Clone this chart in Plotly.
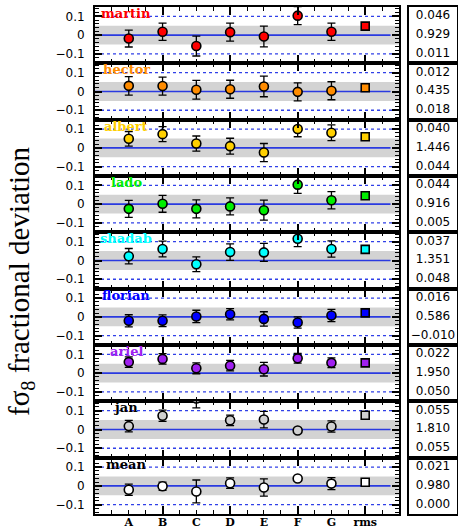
import plotly.graph_objects as go

categories = ["A", "B", "C", "D", "E", "F", "G"]
rms_label = "rms"
names = ["martin", "hector", "albert", "lado", "shadab", "florian", "ariel", "jan", "mean"]
fill_colors = ["#ff0000", "#ff8c00", "#ffd000", "#00ee00", "#00ffff", "#0000ff", "#a020f0", "#d0d0d0", "#ffffff"]
label_colors = ["#ff0000", "#ff8c00", "#ffd000", "#00ee00", "#00ffff", "#0000ff", "#a020f0", "#000000", "#000000"]

martin = [-0.018, 0.018, -0.058, 0.016, -0.007, 0.104, 0.018]
martin_err = [0.045, 0.046, 0.053, 0.048, 0.055, 0.048, 0.046]
hector = [0.030, 0.029, 0.009, 0.012, 0.027, -0.002, 0.004]
hector_err = [0.049, 0.048, 0.050, 0.048, 0.055, 0.048, 0.048]
albert = [0.048, 0.073, 0.023, 0.009, -0.025, 0.100, 0.080]
albert_err = [0.039, 0.040, 0.040, 0.042, 0.048, 0.041, 0.042]
lado = [-0.025, 0.002, -0.025, -0.012, -0.032, 0.104, 0.021]
lado_err = [0.045, 0.045, 0.048, 0.045, 0.053, 0.046, 0.046]
shadab = [0.023, 0.061, -0.020, 0.045, 0.043, 0.116, 0.061]
shadab_err = [0.041, 0.042, 0.039, 0.044, 0.048, 0.042, 0.043]
florian = [-0.021, -0.021, 0.002, 0.014, -0.011, -0.030, 0.007]
florian_err = [0.032, 0.031, 0.033, 0.030, 0.038, 0.030, 0.033]
ariel = [0.059, 0.076, 0.026, 0.040, 0.021, 0.079, 0.055]
ariel_err = [0.028, 0.028, 0.029, 0.028, 0.036, 0.026, 0.026]
jan = [0.018, 0.073, 0.165, 0.049, 0.053, -0.005, 0.016]
jan_err = [0.031, 0.030, 0.050, 0.028, 0.044, 0.012, 0.030]
mean = [-0.021, -0.002, -0.030, 0.014, -0.009, 0.039, 0.012]
mean_err = [0.030, 0.022, 0.061, 0.028, 0.046, 0.010, 0.032]

rms_values = [0.048, 0.020, 0.059, 0.045, 0.059, 0.021, 0.055, 0.076, 0.019]

stat1 = [0.046, 0.012, 0.040, 0.044, 0.037, 0.016, 0.022, 0.055, 0.021]
stat2 = [0.929, 0.435, 1.446, 0.916, 1.351, 0.586, 1.950, 1.810, 0.980]
stat3 = [0.011, 0.018, 0.044, 0.005, 0.048, -0.010, 0.050, 0.055, 0.000]

series = [martin, hector, albert, lado, shadab, florian, ariel, jan, mean]
errors = [martin_err, hector_err, albert_err, lado_err, shadab_err, florian_err, ariel_err, jan_err, mean_err]

W, H = 458, 529
ML, MR, MT, MB = 95, 1, 7, 15
pw = W - ML - MR
main_dom = [0, 304 / pw]
box_dom = [314 / pw, 1]
n = len(names)
xpos = list(range(1, len(categories) + 1))
rms_x = len(categories) + 1
yr = [-0.15, 0.15]

def fmt(v):
    s = f"{v:.3f}"
    return s.replace("-", "\u2212")

fig = go.Figure()
layout = {}
shapes = []
annotations = []

for i in range(n):
    k_main = 2 * i + 1
    k_box = 2 * i + 2
    xs_m = "x" if k_main == 1 else f"x{k_main}"
    ys_m = "y" if k_main == 1 else f"y{k_main}"
    xs_b = f"x{k_box}"
    ys_b = f"y{k_box}"
    dom = [1 - (i + 1) / n, 1 - i / n]

    layout["xaxis" if k_main == 1 else f"xaxis{k_main}"] = dict(
        domain=main_dom, anchor=ys_m, range=[0, 9],
        showline=True, linecolor="black", linewidth=2, mirror="ticks",
        tickvals=[0, 2, 4, 6, 8], ticks="inside", ticklen=8, tickwidth=1.5, tickcolor="black",
        showticklabels=False, showgrid=False, zeroline=False,
        minor=dict(dtick=0.5, tick0=0, ticks="inside", ticklen=4, tickwidth=1.2, tickcolor="black", showgrid=False),
    )
    layout["yaxis" if k_main == 1 else f"yaxis{k_main}"] = dict(
        domain=dom, anchor=xs_m, range=yr,
        showline=True, linecolor="black", linewidth=2, mirror="ticks",
        tickvals=[-0.1, 0, 0.1], ticktext=["\u22120.1", "0", "0.1"],
        ticks="inside", ticklen=7, tickwidth=1.5, tickcolor="black",
        ticklabelstandoff=6,
        tickfont=dict(family="DejaVu Sans", size=12, color="black"),
        showgrid=False, zeroline=False,
        minor=dict(dtick=0.02, tick0=0, ticks="inside", ticklen=4, tickwidth=1, tickcolor="black", showgrid=False),
    )
    layout[f"xaxis{k_box}"] = dict(
        domain=box_dom, anchor=ys_b, range=[0, 1],
        showline=True, linecolor="black", linewidth=1.5, mirror=True,
        showticklabels=False, ticks="", showgrid=False, zeroline=False,
    )
    layout[f"yaxis{k_box}"] = dict(
        domain=dom, anchor=xs_b, range=yr,
        showline=True, linecolor="black", linewidth=1.5, mirror=True,
        showticklabels=False, ticks="", showgrid=False, zeroline=False,
    )

    shapes.append(dict(type="rect", xref=f"{xs_m} domain", yref=ys_m, x0=0, x1=1,
                       y0=-0.05, y1=0.05, fillcolor="#d3d3d3", line=dict(width=0), layer="below"))
    shapes.append(dict(type="line", xref=xs_m, yref=ys_m, x0=0, x1=8.75, y0=0, y1=0,
                       line=dict(color="#2a3ae0", width=1.6), layer="below"))
    for yv in (0.1, -0.1):
        shapes.append(dict(type="line", xref=xs_m, yref=ys_m, x0=0, x1=8.85, y0=yv, y1=yv,
                           line=dict(color="#3040e8", width=1.3, dash="dot"), layer="below"))

    fig.add_trace(go.Scatter(
        x=xpos, y=series[i], mode="markers", xaxis=xs_m, yaxis=ys_m,
        marker=dict(symbol="circle", size=9, color=fill_colors[i], line=dict(color="black", width=1.6)),
        error_y=dict(type="data", array=errors[i], color="black", thickness=1.3, width=4),
        cliponaxis=True, showlegend=False, hoverinfo="skip",
    ))
    fig.add_trace(go.Scatter(
        x=[rms_x], y=[rms_values[i]], mode="markers", xaxis=xs_m, yaxis=ys_m,
        marker=dict(symbol="square", size=8, color=fill_colors[i], line=dict(color="black", width=1.6)),
        showlegend=False, hoverinfo="skip",
    ))
    fig.add_trace(go.Scatter(
        x=[0.5, 0.5, 0.5], y=[0.1, 0, -0.1], mode="text", xaxis=xs_b, yaxis=ys_b,
        text=[fmt(stat1[i]), fmt(stat2[i]), fmt(stat3[i])],
        textfont=dict(family="DejaVu Sans", size=12, color="black"),
        textposition="middle center", showlegend=False, hoverinfo="skip",
    ))
    annotations.append(dict(
        x=0.93, y=0.115, xref=xs_m, yref=ys_m, text=names[i], showarrow=False,
        xanchor="center", yanchor="middle",
        font=dict(family="DejaVu Serif", size=13, color=label_colors[i], weight="bold"),
    ))

k_last = 2 * (n - 1) + 1
k_lab = 2 * n + 1
layout[f"xaxis{k_lab}"] = dict(
    overlaying=f"x{k_last}", anchor=f"y{k_last}", side="bottom", range=[0, 9],
    tickvals=xpos + [rms_x], ticktext=categories + [rms_label], ticks="",
    showline=False, showgrid=False, zeroline=False, ticklabelstandoff=0,
    tickfont=dict(family="DejaVu Serif", size=11, color="black", weight="bold"),
)
fig.add_trace(go.Scatter(
    x=xpos + [rms_x], y=[0] * (len(xpos) + 1), mode="markers", xaxis=f"x{k_lab}", yaxis=f"y{k_last}",
    marker=dict(opacity=0), showlegend=False, hoverinfo="skip",
))

annotations.append(dict(
    x=-74 / pw, y=1 - (282 - MT) / (H - MT - MB), xref="paper", yref="paper",
    text="f\u03c3<sub>8</sub> fractional deviation", textangle=-90, showarrow=False,
    xanchor="center", yanchor="middle",
    font=dict(family="Liberation Serif", size=29, color="black"),
))

fig.update_layout(
    width=W, height=H, margin=dict(l=ML, r=MR, t=MT, b=MB, autoexpand=False),
    paper_bgcolor="white", plot_bgcolor="white",
    shapes=shapes, annotations=annotations, **layout,
)

fig.write_html("out.html", config={"displayModeBar": False},
               post_script="document.body.style.margin='0';document.body.style.overflow='hidden';")
